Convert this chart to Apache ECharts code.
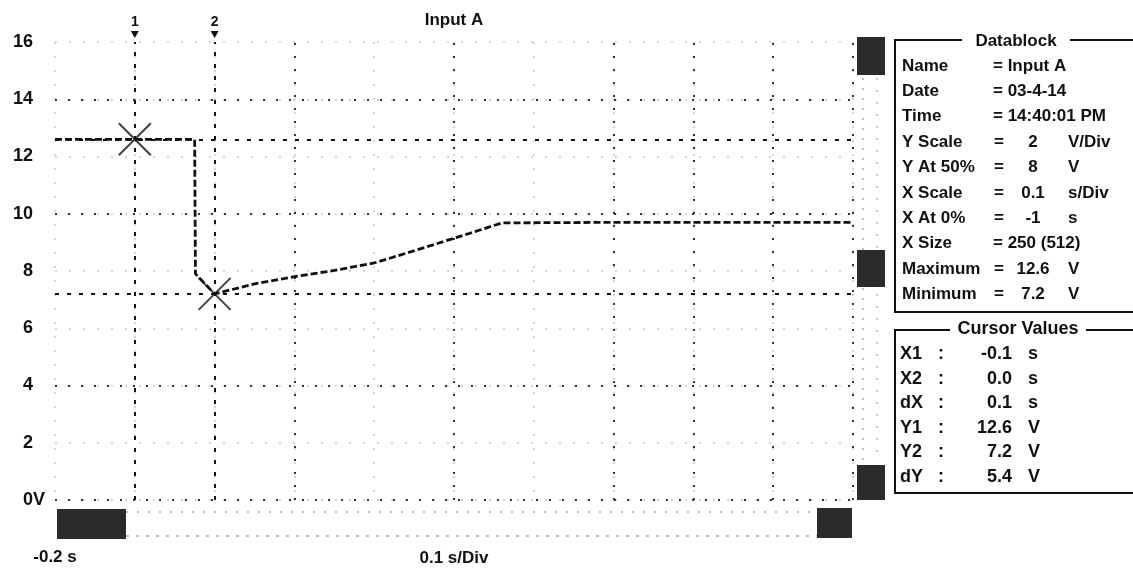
<!DOCTYPE html>
<html>
<head>
<meta charset="utf-8">
<script src="https://cdn.jsdelivr.net/npm/echarts@6/dist/echarts.min.js"></script>
<style>
  html, body { margin: 0; padding: 0; background: #fff; }
  #chart { width: 1133px; height: 576px; }
</style>
</head>
<body>
<div id="chart"></div>
<script>
// trace: time (s) / volts
const traceTime = [-0.2, -0.1, -0.025, -0.024, 0.0, 0.05, 0.1, 0.15, 0.2, 0.24, 0.28, 0.32, 0.36, 0.5, 0.65, 0.8];
const traceVolts = [12.6, 12.6, 12.6, 7.9, 7.2, 7.55, 7.8, 8.02, 8.28, 8.62, 8.97, 9.32, 9.68, 9.7, 9.7, 9.7];

// cursors
const cursorNames = ['1', '2'];
const cursorTimes = [-0.1, 0.0];
const cursorVolts = [12.6, 7.2];

// grid lines that survived the scan as dark dots
const strongVGrid = [0.1, 0.3, 0.5, 0.6, 0.7, 0.8];
const strongHGrid = [14, 10, 4, 0];

// datablock panel
const dataLabels = ['Name', 'Date', 'Time', 'Y Scale', 'Y At 50%', 'X Scale', 'X At 0%', 'X Size', 'Maximum', 'Minimum'];
const dataValues = ['Input A', '03-4-14', '14:40:01 PM', '2', '8', '0.1', '-1', '250 (512)', '12.6', '7.2'];
const dataUnits = ['', '', '', 'V/Div', 'V', 's/Div', 's', '', 'V', 'V'];

// cursor values panel
const cursorLabels = ['X1', 'X2', 'dX', 'Y1', 'Y2', 'dY'];
const cursorValues = ['-0.1', '0.0', '0.1', '12.6', '7.2', '5.4'];
const cursorUnits = ['s', 's', 's', 'V', 'V', 'V'];

const FONT = '"Liberation Sans", Arial, sans-serif';
const INK = '#111';

const chart = echarts.init(document.getElementById('chart'));

const gridStrong = { color: '#333', width: 2, type: [2, 11] };
const cursorLine = { color: INK, width: 2, type: [4, 8] };

chart.setOption({
  animation: false,
  backgroundColor: '#fff',
  grid: { left: 55, right: 280, top: 42, bottom: 76, containLabel: false, outerBoundsMode: 'none' },
  xAxis: {
    type: 'value', min: -0.2, max: 0.8, interval: 0.1,
    axisLine: { show: false }, axisTick: { show: false },
    axisLabel: {
      margin: 49, color: INK, fontFamily: FONT, fontWeight: 'bold', fontSize: 17,
      formatter: (v, i) => (i === 0 ? '-0.2 s' : '')
    },
    splitLine: { show: true, lineStyle: { color: '#c8c8c8', width: 1.5, type: [2, 12] } }
  },
  yAxis: {
    type: 'value', min: 0, max: 16, interval: 2,
    axisLine: { show: false }, axisTick: { show: false },
    axisLabel: { margin: 22, color: INK, fontFamily: FONT, fontWeight: 'bold', fontSize: 18 },
    splitLine: { show: true, lineStyle: { color: '#c8c8c8', width: 1.5, type: [2, 12] } }
  },
  series: [
    {
      name: 'Input A',
      type: 'line',
      data: traceTime.map((t, i) => [t, traceVolts[i]]),
      showSymbol: false,
      lineStyle: { color: INK, width: 2.8, type: [7, 3] },
      z: 5
    },
    {
      name: 'cursors',
      type: 'scatter',
      data: cursorTimes.map((t, i) => [t, cursorVolts[i]]),
      symbol: 'path://M0,0L10,10M10,0L0,10',
      symbolSize: 32,
      itemStyle: { color: 'none', borderColor: INK, borderWidth: 2 },
      z: 6,
      markLine: {
        silent: true,
        symbol: ['none', 'none'],
        label: { show: false },
        data: [
          ...strongVGrid.map(v => ({ xAxis: v, lineStyle: gridStrong })),
          ...strongHGrid.map(v => ({ yAxis: v, lineStyle: gridStrong })),
          ...cursorTimes.map(v => ({ xAxis: v, lineStyle: cursorLine })),
          ...cursorVolts.map(v => ({ yAxis: v, lineStyle: cursorLine }))
        ]
      }
    }
  ]
});

// ---- overlays: title, axis captions, cursor tags, side panels ----
const txt = (x, y, s, size, align) => ({
  type: 'text', x, y, z: 20,
  style: { text: s, fill: INK, fontFamily: FONT, fontWeight: 'bold', fontSize: size, align: align || 'left', verticalAlign: 'middle' }
});
const box = (x, y, w, h, fill) => ({ type: 'rect', z: 15, shape: { x, y, width: w, height: h }, style: fill ? { fill } : { fill: 'none', stroke: INK, lineWidth: 2 } });

const gfx = [];
const [midX] = chart.convertToPixel({ gridIndex: 0 }, [0.3, 0]);
gfx.push(txt(midX, 20, 'Input A', 17, 'center'));
gfx.push(txt(midX, 558, '0.1 s/Div', 17, 'center'));

const zero = chart.convertToPixel({ gridIndex: 0 }, [-0.2, 0]);
gfx.push(txt(zero[0] - 22, zero[1], 'V', 18, 'left'));

cursorTimes.forEach((t, i) => {
  const [px] = chart.convertToPixel({ gridIndex: 0 }, [t, 16]);
  gfx.push(txt(px, 22, cursorNames[i], 14, 'center'));
  gfx.push({ type: 'polygon', z: 20, shape: { points: [[px - 4, 31], [px + 4, 31], [px, 38]] }, style: { fill: INK } });
});

// scan noise under the screen and scrollbar blocks
gfx.push({ type: 'line', z: 1, shape: { x1: 126, y1: 512, x2: 817, y2: 512 }, style: { stroke: '#aaa', lineWidth: 1.5, lineDash: [2, 9] } });
gfx.push({ type: 'line', z: 1, shape: { x1: 126, y1: 536, x2: 817, y2: 536 }, style: { stroke: '#aaa', lineWidth: 1.5, lineDash: [3, 7] } });
gfx.push({ type: 'line', z: 1, shape: { x1: 863, y1: 78, x2: 863, y2: 462 }, style: { stroke: '#aaa', lineWidth: 1.5, lineDash: [2, 8] } });
gfx.push({ type: 'line', z: 1, shape: { x1: 877, y1: 78, x2: 877, y2: 462 }, style: { stroke: '#bbb', lineWidth: 1.5, lineDash: [2, 10] } });
gfx.push(box(57, 509, 69, 30, '#2b2b2b'));
gfx.push(box(817, 508, 35, 30, '#2b2b2b'));
gfx.push(box(857, 37, 28, 38, '#2b2b2b'));
gfx.push(box(857, 250, 28, 37, '#2b2b2b'));
gfx.push(box(857, 465, 28, 35, '#2b2b2b'));

// Datablock
gfx.push(box(895, 40, 260, 272));
gfx.push(box(962, 30, 108, 20, '#fff'));
gfx.push(txt(1016, 41, 'Datablock', 17, 'center'));
dataLabels.forEach((lab, i) => {
  const y = 66 + i * 25.4;
  gfx.push(txt(902, y, lab, 17));
  if (dataUnits[i]) {
    gfx.push(txt(994, y, '=', 17));
    gfx.push(txt(1033, y, dataValues[i], 17, 'center'));
    gfx.push(txt(1068, y, dataUnits[i], 17));
  } else {
    gfx.push(txt(993, y, '= ' + dataValues[i], 17));
  }
});

// Cursor Values
gfx.push(box(895, 330, 260, 163));
gfx.push(box(950, 319, 136, 20, '#fff'));
gfx.push(txt(1018, 329, 'Cursor Values', 18, 'center'));
cursorLabels.forEach((lab, i) => {
  const y = 354 + i * 24.6;
  gfx.push(txt(900, y, lab, 18));
  gfx.push(txt(938, y, ':', 18));
  gfx.push(txt(1012, y, cursorValues[i], 18, 'right'));
  gfx.push(txt(1028, y, cursorUnits[i], 18));
});

chart.setOption({ graphic: { elements: gfx } });
</script>
</body>
</html>
